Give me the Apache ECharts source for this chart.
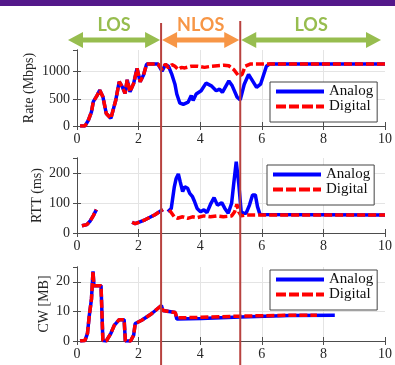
<!DOCTYPE html>
<html><head><meta charset="utf-8">
<script src="https://cdn.jsdelivr.net/npm/echarts@6/dist/echarts.min.js"></script>
<style>html,body{margin:0;padding:0;background:#fff}#c{width:395px;height:365px}</style>
</head><body><div id="c"></div>
<script>
const seriesNames = ['Analog', 'Digital'];
const panelTitles = ['Rate (Mbps)', 'RTT (ms)', 'CW [MB]'];
const regionLabels = ['LOS', 'NLOS', 'LOS'];
const boundaries = [2.73, 5.3];
const xRange = [0, 10, 2];
const yRanges = [[0, 1400, 500], [0, 250, 100], [0, 25, 10]];

const rateAnalog = [[0.1,0],[0.26,0],[0.37,110],[0.47,260],[0.53,450],[0.63,540],[0.74,660],[0.84,540],[0.95,230],[1.1,140],[1.16,170],[1.26,480],[1.37,815],[1.47,720],[1.56,600],[1.63,850],[1.72,630],[1.84,785],[1.95,1060],[2.05,815],[2.16,940],[2.26,1140],[2.42,1140],[2.63,1140],
  [2.76,1010],[2.87,1130],[2.97,1100],[3.08,950],[3.18,770],[3.24,590],[3.34,420],[3.45,400],[3.61,440],[3.71,560],[3.77,470],[3.87,590],[4.03,650],[4.19,790],[4.36,740],[4.52,650],[4.63,680],[4.72,620],[4.93,830],[5.04,740],[5.2,530],[5.3,480],[5.43,770],[5.57,950],[5.67,860],[5.83,710],[5.96,770],[6.15,1100],[6.25,1140],[10,1140]];
const rateDigital = [[0.1,0],[0.26,0],[0.37,110],[0.47,260],[0.53,450],[0.63,540],[0.74,660],[0.84,540],[0.95,230],[1.1,140],[1.16,170],[1.26,480],[1.37,815],[1.47,720],[1.56,600],[1.63,850],[1.72,630],[1.84,785],[1.95,1060],[2.05,815],[2.16,940],[2.26,1140],[2.42,1140],[2.63,1140],
  [2.76,1040],[2.87,1140],[2.97,1070],[3.08,1130],[3.18,1100],[3.29,1040],[3.39,1080],[3.5,1070],[3.71,1100],[3.92,1100],[4.14,1080],[4.35,1100],[4.56,1110],[4.77,1120],[4.93,1110],[5.09,1040],[5.25,920],[5.36,950],[5.46,1100],[5.62,1140],[10,1140]];

const rttAnalog = [[0.16,24],[0.32,28],[0.42,39],[0.53,58],[0.63,78],[0.7,null],[1.79,36],[1.89,31],[2.21,44],[2.53,61],[2.79,78],[2.88,null],
  [2.95,71],[3.06,82],[3.16,154],[3.22,182],[3.29,197],[3.35,171],[3.43,138],[3.5,154],[3.59,149],[3.66,132],[3.75,121],[3.82,104],[3.9,82],[4.01,71],[4.12,77],[4.22,68],[4.35,99],[4.45,118],[4.56,93],[4.7,101],[4.8,82],[4.91,66],[5.02,99],[5.09,166],[5.17,238],[5.25,166],[5.33,71],[5.41,66],[5.49,66],[5.6,93],[5.7,127],[5.79,127],[5.86,88],[5.94,62],[10,60]];
const rttDigital = [[0.16,24],[0.32,28],[0.42,39],[0.53,58],[0.63,78],[0.7,null],[1.79,36],[1.89,31],[2.21,44],[2.53,61],[2.79,78],[2.88,null],
  [3.0,77],[3.06,82],[3.16,54],[3.26,49],[3.43,54],[3.59,49],[3.75,54],[3.9,51],[4.12,57],[4.33,54],[4.54,57],[4.75,54],[5.02,57],[5.12,71],[5.19,96],[5.25,71],[5.33,57],[5.49,60],[10,60]];

const cwAnalog = [[0.1,0],[0.26,0.2],[0.34,2.6],[0.4,8.7],[0.47,14.2],[0.52,23.5],[0.55,18.7],[0.78,18.7],[0.84,0.2],[0.95,0],[1.1,2.6],[1.21,5.3],[1.37,7.2],[1.53,7.2],[1.57,0],[1.74,0],[1.84,2],[1.89,5.9],[2.1,7],[2.42,9.2],[2.74,12],[2.79,10.3],[2.84,9.8],[3.19,9.6],[3.24,7.4],[3.29,7.2],[4.03,7.6],[5.3,8.1],[6.89,8.6],[8.37,8.7]];
const cwDigital = [[0.1,0],[0.26,0.2],[0.34,2.6],[0.4,8.7],[0.47,14.2],[0.52,23.5],[0.55,18.7],[0.78,18.7],[0.84,0.2],[0.95,0],[1.1,2.6],[1.21,5.3],[1.37,7.2],[1.53,7.2],[1.57,0],[1.74,0],[1.84,2],[1.89,5.9],[2.1,7],[2.42,9.2],[2.74,12],[2.79,10.3],[2.84,9.8],[3.19,9.6],[3.24,7.8],[3.29,7.7],[4.03,8.0],[5.3,8.4],[6.89,8.7],[7.79,8.7]];

const panels = [[rateAnalog, rateDigital], [rttAnalog, rttDigital], [cwAnalog, cwDigital]];

const FONT = "'Liberation Serif', 'Times New Roman', serif";
const gridLayout = [{top: 50, height: 76}, {top: 158, height: 75}, {top: 267, height: 74}];
const nameGaps = [41, 33, 26];
const legendPos = [{left: 270, top: 82}, {left: 267, top: 165}, {left: 270, top: 270}];
const solidIcon = 'path://M0,0h48v4h-48z';
const dashIcon = 'path://M0,0h10v4h-10z M13,0h10v4h-10z M26,0h11v4h-11z M40,0h8v4h-8z';

const option = {
  animation: false,
  backgroundColor: '#fff',
  textStyle: {fontFamily: FONT},
  grid: [], xAxis: [], yAxis: [], series: [], legend: []
};
const axisLineStyle = {show: true, lineStyle: {color: '#4d4d4d', width: 1}};
const tickStyle = {show: true, inside: true, length: 4, lineStyle: {color: '#4d4d4d'}};
panels.forEach((pair, i) => {
  const g = gridLayout[i];
  option.grid.push({left: 77, right: 3, top: g.top, height: g.height, containLabel: false});
  const [ymin, ymax, yint] = yRanges[i];
  option.xAxis.push({
    gridIndex: i, type: 'value', min: xRange[0], max: xRange[1], interval: xRange[2],
    axisLine: axisLineStyle, axisTick: tickStyle,
    axisLabel: {fontFamily: FONT, fontSize: 14, color: '#262626', margin: 6, formatter: v => String(v)},
    splitLine: {show: true, showMinLine: false, showMaxLine: false, lineStyle: {color: '#e4e4e4', width: 1}}
  });
  option.xAxis.push({
    gridIndex: i, type: 'value', position: 'top', min: xRange[0], max: xRange[1], interval: xRange[2],
    axisLine: axisLineStyle, axisTick: tickStyle, axisLabel: {show: false}, splitLine: {show: false}
  });
  option.yAxis.push({
    gridIndex: i, type: 'value', min: ymin, max: ymax, interval: yint,
    name: panelTitles[i], nameLocation: 'middle', nameGap: nameGaps[i], nameMoveOverlap: false,
    nameTextStyle: {fontFamily: FONT, fontSize: 14, color: '#262626'},
    axisLine: axisLineStyle, axisTick: tickStyle,
    axisLabel: {fontFamily: FONT, fontSize: 14, color: '#262626', margin: 7, showMaxLabel: false, formatter: v => String(v)},
    splitLine: {show: true, showMinLine: false, showMaxLine: false, lineStyle: {color: '#e4e4e4', width: 1}}
  });
  option.yAxis.push({
    gridIndex: i, type: 'value', position: 'right', min: ymin, max: ymax, interval: yint,
    axisLine: axisLineStyle, axisTick: tickStyle, axisLabel: {show: false}, splitLine: {show: false}
  });
  option.series.push({
    name: seriesNames[0], type: 'line', xAxisIndex: 2 * i, yAxisIndex: 2 * i,
    data: pair[0], showSymbol: false, symbol: 'none', z: 2, connectNulls: false,
    lineStyle: {color: '#0000ff', width: 3.5, type: 'solid'}, itemStyle: {color: '#0000ff'}
  });
  option.series.push({
    name: seriesNames[1], type: 'line', xAxisIndex: 2 * i, yAxisIndex: 2 * i,
    data: pair[1], showSymbol: false, symbol: 'none', z: 3, connectNulls: false,
    lineStyle: {color: '#ff0000', width: 3.5, type: [8, 3]}, itemStyle: {color: '#ff0000'}
  });
  option.legend.push({
    data: [{name: seriesNames[0], icon: solidIcon}, {name: seriesNames[1], icon: dashIcon}],
    orient: 'vertical', left: legendPos[i].left, top: legendPos[i].top,
    selectedMode: false, itemWidth: 48, itemHeight: 4, itemGap: 0, symbolKeepAspect: false,
    padding: [2, 4, 8, 6], backgroundColor: '#fff', borderColor: '#444', borderWidth: 1, borderRadius: 0,
    textStyle: {fontFamily: FONT, fontSize: 15, color: '#111', lineHeight: 12.5}
  });
});

const chart = echarts.init(document.getElementById('c'), null, {renderer: 'canvas'});
chart.setOption(option);

// Overlay annotations positioned through the x scale
const px = v => chart.convertToPixel({xAxisIndex: 0}, v);
const b1 = px(boundaries[0]), b2 = px(boundaries[1]);
const xs = px(xRange[0]) - 9, xe = px(xRange[1]) - 4;
const arrowY = 40;
function arrow(xa, xb, color) {
  const h = 15, hw = 8, sw = 2.5, c = arrowY;
  return {type: 'polygon', z: 100, shape: {points: [[xa, c], [xa + h, c - hw], [xa + h, c - sw], [xb - h, c - sw], [xb - h, c - hw], [xb, c], [xb - h, c + hw], [xb - h, c + sw], [xa + h, c + sw], [xa + h, c + hw]]}, style: {fill: color}};
}
const green = '#97bd4f', orange = '#f79646';
const segs = [[xs, b1 - 1, green], [b1 + 1, b2 - 1, orange], [b2 + 1, xe, green]];
const graphics = [{type: 'rect', z: 100, shape: {x: 0, y: 0, width: 395, height: 6}, style: {fill: '#54188a'}}];
segs.forEach((s, k) => {
  graphics.push(arrow(s[0], s[1], s[2]));
  graphics.push({type: 'text', z: 100, x: (s[0] + s[1]) / 2, y: 25,
    style: {text: regionLabels[k], fill: s[2], font: 'bold 18px Lato', align: 'center', verticalAlign: 'middle'}});
});
[[b1, 23], [b2, 21]].forEach(([x, y0]) => {
  graphics.push({type: 'line', z: 101, shape: {x1: x, y1: y0, x2: x, y2: 365}, style: {stroke: '#b8423f', lineWidth: 2}});
});
chart.setOption({graphic: graphics});
</script>
</body></html>
